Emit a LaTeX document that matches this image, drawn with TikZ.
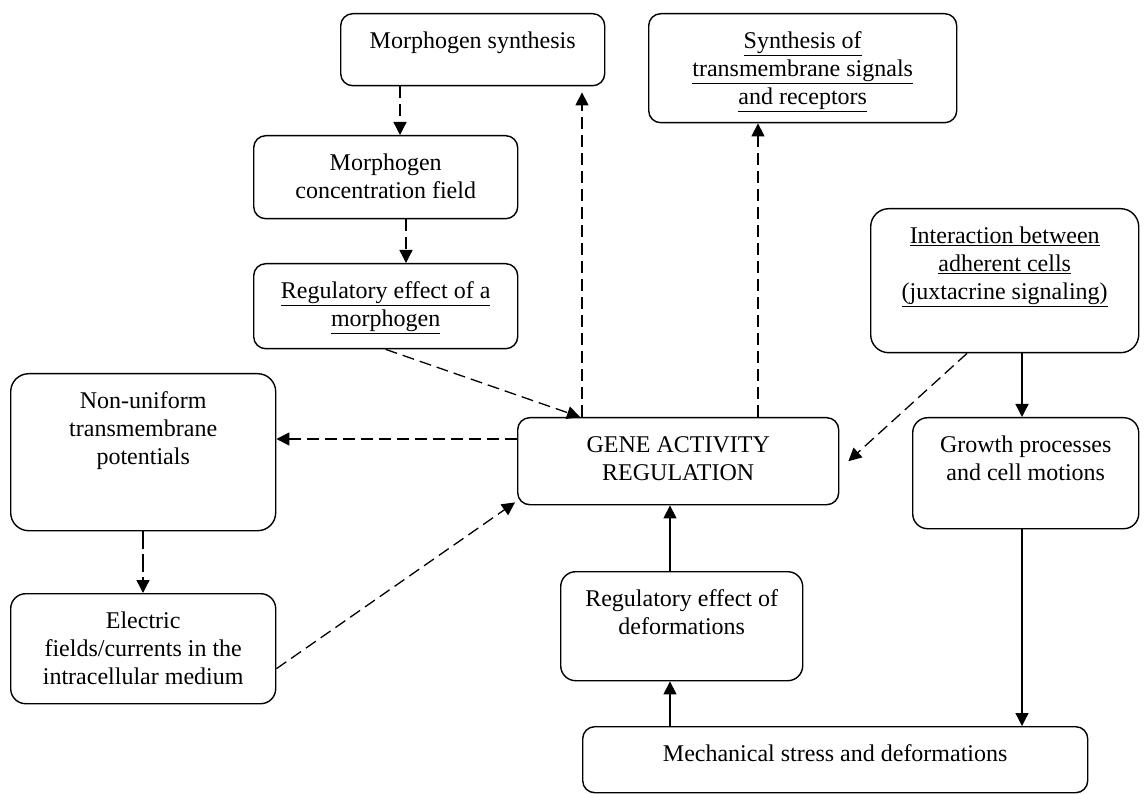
\documentclass[tikz,border=0pt]{standalone}
\usepackage{fontspec}
\setmainfont{Liberation Serif}
\usetikzlibrary{arrows.meta, positioning, calc}

% text of a box: width, height, lines
\newcommand{\boxtext}[3]{\parbox[c][#2pt][t]{#1pt}{\centering\rule{0pt}{35pt}#3}}

\begin{document}
\begin{tikzpicture}[
  x=1pt, y=-1pt,
  box/.style={draw, rounded corners=12pt, inner sep=0pt, anchor=north west,
    line width=1.4pt, font=\fontsize{24}{28}\selectfont},
  solid arr/.style={-{Triangle[length=13pt,width=13pt]}, line width=1.3pt},
  dash arr/.style={solid arr, dash pattern=on 12pt off 6pt}
]
\useasboundingbox (0,0) rectangle (1144,794);

\node[box] (synth)  at (340,13)  {\boxtext{264}{72}{Morphogen synthesis}};
\node[box] (trans)  at (648,13)  {\boxtext{308}{109}{\underline{Synthesis of}\\
  \underline{transmembrane signals}\\ \underline{and receptors}}};
\node[box] (conc)   at (253,135) {\boxtext{264}{83}{Morphogen\\ concentration field}};
\node[box] (regm)   at (253,263) {\boxtext{264}{85}{\underline{Regulatory effect of a}\\
  \underline{morphogen}}};
\node[box, rounded corners=18pt] (inter) at (870,208) {\boxtext{268}{144}{\underline{Interaction between}\\
  \underline{adherent cells}\\ \underline{(juxtacrine signaling)}}};
\node[box, rounded corners=18pt] (nonu) at (10,373) {\boxtext{265}{157}{Non-uniform\\
  transmembrane\\ potentials}};
\node[box] (gene)   at (517,417) {\boxtext{321}{87}{GENE ACTIVITY\\ REGULATION}};
\node[box, rounded corners=15pt] (growth) at (912,417) {\boxtext{226}{111}{Growth processes\\
  and cell motions}};
\node[box, rounded corners=15pt] (elec) at (10,593) {\boxtext{265}{110}{Electric\\
  fields/currents in the\\ intracellular medium}};
\node[box, rounded corners=15pt] (regd) at (560,571) {\boxtext{242}{109}{Regulatory effect of\\
  deformations}};
\node[box] (mech)   at (582,726) {\boxtext{505}{66}{Mechanical stress and deformations}};

% x positions of the vertical connectors
\coordinate (xa) at (400,0);
\coordinate (xb) at (406,0);
\coordinate (xc) at (582,0);
\coordinate (xd) at (758,0);
\coordinate (xe) at (1022,0);
\coordinate (xf) at (670,0);
\coordinate (xg) at (143,0);
\coordinate (xh) at (580,0);
\coordinate (yh) at (0,439);

% morphogen chain
\draw[dash arr] (synth.south -| xa) -- (conc.north -| xa);
\draw[dash arr] (conc.south -| xb) -- (regm.north -| xb);
\draw[dash arr] (regm.south) -- (gene.north -| xh);

% from gene activity
\draw[dash arr] (gene.north -| xc) -- ([yshift=-6pt]synth.south -| xc);
\draw[dash arr] (gene.north -| xd) -- (trans.south -| xd);
\draw[dash arr] (gene.west |- yh) -- (nonu.east |- yh);

% electric
\draw[dash arr, dash pattern=on 18pt off 5pt] (nonu.south -| xg) -- (elec.north -| xg);
\draw[dash arr] ([yshift=-20pt]elec.east) -- ([xshift=-2pt,yshift=3pt]gene.south west);

% adherent cells
\draw[dash arr] ([xshift=97pt]inter.south west) -- ([xshift=9pt]gene.east);
\draw[solid arr] (inter.south -| xe) -- (growth.north -| xe);

% mechanics
\draw[solid arr] (growth.south -| xe) -- (mech.north -| xe);
\draw[solid arr] (mech.north -| xf) -- (regd.south -| xf);
\draw[solid arr] (regd.north -| xf) -- (gene.south -| xf);

\end{tikzpicture}
\end{document}
